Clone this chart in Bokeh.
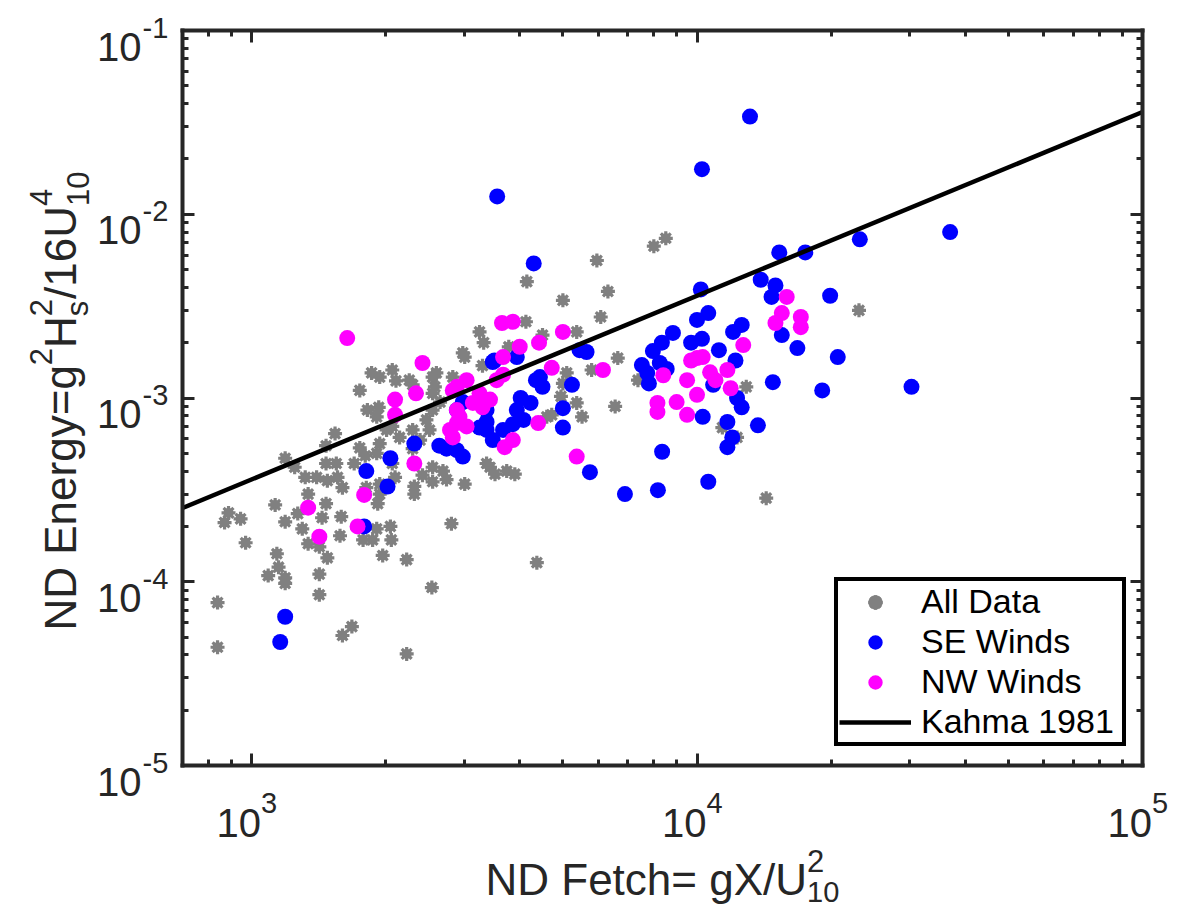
import math
from bokeh.plotting import figure
from bokeh.models import Range1d, FixedTicker, LogAxis, Label, Legend, LegendItem
from bokeh.embed import file_html
from bokeh.resources import INLINE

# ---------------- data ----------------
all_x = [839, 839, 888, 870, 945, 970, 1130, 1190, 1190, 1250,
         1140, 1150, 1090, 1190, 1190, 1420, 1420, 1600, 1680, 2230,
         2540, 2810, 2230, 1970, 1420, 1480, 1340, 1300, 1270, 1340,
         1470, 1440, 1590, 1580, 1780, 1870, 2050, 2060, 1910, 1920,
         1810, 1320, 1400, 1480, 1560, 1600, 1470, 1550, 1540, 1470,
         1750, 1800, 1700, 1910, 1750, 1860, 1940, 2070, 2110, 1820,
         1930, 1910, 2070, 2150, 2300, 2390, 2300, 2070, 2100, 1940,
         1940, 2320, 2320, 2420, 2550, 2690, 2550, 2740, 3010, 2300,
         2260, 2550, 2600, 2550, 2650, 2470, 2510, 2980, 3010, 3250,
         3320, 3300, 3430, 3520, 3740, 3900, 4370, 8510, 8000, 5960,
         4150, 6310, 5000, 6080, 4130, 5370, 6640, 5800, 4500, 3780,
         7370, 12900, 11400, 12300, 6550, 5520, 4720, 5370, 4950, 14300,
         23100, 5000, 5100, 2580, 2830, 3370, 2550, 1940, 2010, 4600]
all_y = [7.7e-5, 4.4e-5, 2.37e-4, 2.1e-4, 2.2e-4, 1.63e-4, 2.62e-4, 2.12e-4, 4.7e-4, 4.2e-4,
         1.42e-4, 1.2e-4, 1.08e-4, 1.05e-4, 0.98e-4, 1.1e-4, 8.5e-5, 5.1e-5, 5.7e-5, 4.05e-5,
         9.3e-5, 2.07e-4, 1.32e-4, 1.39e-4, 1.55e-4, 1.35e-4, 1.61e-4, 1.94e-4, 2.35e-4, 3.0e-4,
         2.66e-4, 2.23e-4, 2.26e-4, 1.78e-4, 1.69e-4, 1.69e-4, 2.0e-4, 1.69e-4, 1.94e-4, 2.66e-4,
         3.25e-4, 3.7e-4, 3.7e-4, 3.55e-4, 3.7e-4, 3.25e-4, 4.4e-4, 4.4e-4, 6.4e-4, 5.5e-4,
         5.35e-4, 4.85e-4, 4.4e-4, 5.0e-4, 1.1e-3, 1.37e-3, 1.3e-3, 1.42e-3, 1.24e-3, 8.6e-4,
         8.9e-4, 7.9e-4, 7.0e-4, 6.1e-4, 6.7e-4, 5.9e-4, 5.3e-4, 4.4e-4, 3.7e-4, 3.4e-4,
         3.0e-4, 3.3e-4, 3.0e-4, 3.8e-4, 4.2e-4, 4.0e-4, 3.5e-4, 3.6e-4, 3.4e-4, 1.18e-3,
         1.25e-3, 1.3e-3, 1.37e-3, 1.06e-3, 9.5e-4, 7.6e-4, 6.7e-4, 1.76e-3, 1.67e-3, 2.29e-3,
         2.0e-3, 1.5e-3, 4.2e-4, 3.85e-4, 4.0e-4, 3.85e-4, 1.27e-4, 7.4e-3, 6.7e-3, 5.6e-3,
         4.3e-3, 3.8e-3, 3.4e-3, 2.76e-3, 2.6e-3, 2.29e-3, 1.65e-3, 1.42e-3, 2.2e-3, 1.9e-3,
         1.25e-3, 1.15e-3, 6.9e-4, 6.1e-4, 9.0e-4, 7.9e-4, 8.1e-4, 9.4e-4, 1.02e-3, 2.85e-4,
         3.0e-3, 1.2e-3, 1.37e-3, 1.15e-3, 1.3e-3, 4.4e-4, 8.6e-4, 5.65e-4, 6.7e-4, 7.9e-4]

se_x = [3560, 13150, 10260, 4300, 37000, 23200, 17500, 15300, 13900, 15000,
        14700, 19900, 20700, 19100, 30300, 16800, 15500, 10200, 10000, 10600,
        7960, 8340, 8830, 12050, 12600, 10260, 9700, 11200, 12200, 7730,
        7800, 7520, 8250, 10870, 14800, 12300, 12600, 10300, 11700, 13700,
        12000, 11700, 8350, 10600, 8170, 6890, 5750, 5240, 5000, 5000,
        5450, 5650, 1190, 1160, 1790, 1810, 2020, 2050, 2320, 2640,
        2740, 2980, 2890, 3480, 3370, 3940, 3510, 4440, 4020, 4230,
        3940, 2980, 2890, 3370, 3250, 3370, 3670, 3860, 4080, 3480,
        4500, 4350, 8550]
se_y = [1.25e-2, 3.4e-2, 1.76e-2, 5.4e-3, 8.0e-3, 7.3e-3, 6.2e-3, 6.2e-3, 4.4e-3, 4.1e-3,
        3.55e-3, 3.6e-3, 1.67e-3, 1.1e-3, 1.15e-3, 1.87e-3, 2.2e-3, 3.9e-3, 2.66e-3, 2.9e-3,
        1.8e-3, 2.0e-3, 2.26e-3, 2.29e-3, 2.5e-3, 2.1e-3, 2.0e-3, 1.82e-3, 1.6e-3, 1.37e-3,
        1.2e-3, 1.51e-3, 1.55e-3, 1.18e-3, 1.22e-3, 1.0e-3, 8.9e-4, 7.9e-4, 7.4e-4, 7.1e-4,
        6.1e-4, 5.4e-4, 5.1e-4, 3.5e-4, 3.15e-4, 3.0e-4, 3.95e-4, 1.18e-3, 8.8e-4, 6.9e-4,
        1.82e-3, 1.78e-3, 6.45e-5, 4.7e-5, 2.0e-4, 4.0e-4, 3.3e-4, 4.7e-4, 5.65e-4, 5.5e-4,
        5.3e-4, 4.8e-4, 5.2e-4, 1.57e-3, 6.7e-4, 1.67e-3, 1.6e-3, 1.3e-3, 1.0e-3, 9.4e-4,
        8.6e-4, 9.5e-4, 8.6e-4, 8.6e-4, 6.9e-4, 7.4e-4, 6.7e-4, 7.2e-4, 7.6e-4, 5.9e-4,
        1.15e-3, 1.25e-3, 1.44e-3]

nw_x = [15900, 15500, 17100, 17100, 15000, 12700, 10000, 10300, 9700, 10700,
        11000, 11700, 9500, 10000, 11900, 8400, 8150, 8150, 9000, 9500,
        6150, 5000, 4400, 5370, 3650, 3860, 4000, 4420, 3670, 4720,
        3860, 3700, 1640, 2420, 2100, 2100, 2340, 2320, 1790, 1340,
        1420, 1730, 2890, 3040, 3250, 3140, 3300, 2930, 2890, 2790,
        2830, 2830, 3430, 3550, 3670, 2890, 3040]
nw_y = [3.55e-3, 2.9e-3, 2.76e-3, 2.43e-3, 2.56e-3, 1.94e-3, 1.65e-3, 1.67e-3, 1.6e-3, 1.38e-3,
        1.25e-3, 1.42e-3, 1.25e-3, 1.04e-3, 1.13e-3, 1.33e-3, 9.4e-4, 8.4e-4, 9.5e-4, 8.1e-4,
        1.42e-3, 2.29e-3, 7.3e-4, 4.8e-4, 2.56e-3, 2.6e-3, 1.9e-3, 2.0e-3, 1.67e-3, 1.46e-3,
        5.9e-4, 5.4e-4, 2.12e-3, 1.55e-3, 9.8e-4, 8.1e-4, 1.06e-3, 4.4e-4, 2.97e-4, 2.53e-4,
        1.76e-4, 2.0e-4, 1.15e-3, 1.25e-3, 1.06e-3, 9.4e-4, 8.9e-4, 7.9e-4, 8.6e-4, 6.7e-4,
        6.1e-4, 1.1e-3, 9.8e-4, 1.25e-3, 1.34e-3, 7.3e-4, 7.0e-4]

kahma_coef = 3.6e-7
kahma_x = [700, 1e5]
kahma_y = [kahma_coef * v for v in kahma_x]

x_major = [1e3, 1e4, 1e5]
x_exp = ["3", "4", "5"]
y_major = [1e-5, 1e-4, 1e-3, 1e-2, 1e-1]
y_exp = ["-5", "-4", "-3", "-2", "-1"]
X_LO, X_HI = 700, 1e5
Y_LO, Y_HI = 1e-5, 1e-1

# ---------------- layout ----------------
W, H = 1178, 909
FL, FT, FW, FH = 182, 30, 960, 735   # axes box inside the canvas
FONT = "Liberation Sans"
AX = "#262626"

# the Bokeh frame covers the whole canvas; the axes box is placed with fixed-location axes
lx0, lx1 = math.log10(X_LO), math.log10(X_HI)
ly0, ly1 = math.log10(Y_LO), math.log10(Y_HI)
dx = FW / (lx1 - lx0)
dy = FH / (ly1 - ly0)
xr = Range1d(10 ** (lx0 - FL / dx), 10 ** (lx1 + (W - FL - FW) / dx))
yr = Range1d(10 ** (ly0 - (H - FT - FH) / dy), 10 ** (ly1 + FT / dy))

p = figure(width=W, height=H, x_axis_type="log", y_axis_type="log",
           x_range=xr, y_range=yr,
           output_backend="svg", toolbar_location=None,
           min_border=0, min_border_left=0, min_border_right=0,
           min_border_top=0, min_border_bottom=0)
p.outline_line_color = None
p.grid.visible = False
p.background_fill_color = "white"
p.border_fill_color = "white"

x_minor = [k * 10 ** e for e in (2, 3, 4) for k in range(2, 10) if X_LO < k * 10 ** e < X_HI]
y_minor = [k * 10.0 ** e for e in (-5, -4, -3, -2) for k in range(2, 10)]


def style_axis(ax, ticks, minor, loc, bounds):
    ax.ticker = FixedTicker(ticks=ticks, minor_ticks=minor)
    ax.fixed_location = loc
    ax.bounds = bounds
    ax.axis_line_width = 4
    ax.axis_line_color = AX
    ax.axis_line_cap = "square"
    ax.major_tick_in = 12
    ax.major_tick_out = 0
    ax.minor_tick_in = 6
    ax.minor_tick_out = 0
    ax.major_tick_line_width = 3
    ax.minor_tick_line_width = 3
    ax.major_tick_line_color = AX
    ax.minor_tick_line_color = AX
    ax.major_label_text_color = None
    ax.major_label_text_font_size = "0px"
    ax.major_label_standoff = 0


style_axis(p.xaxis[0], x_major, x_minor, Y_LO, (X_LO, X_HI))
style_axis(p.yaxis[0], y_major, y_minor, X_LO, (Y_LO, Y_HI))
top_ax = LogAxis()
right_ax = LogAxis()
style_axis(top_ax, x_major, x_minor, Y_HI, (X_LO, X_HI))
style_axis(right_ax, y_major, y_minor, X_HI, (Y_LO, Y_HI))
p.add_layout(top_ax, "above")
p.add_layout(right_ax, "right")

# ---------------- glyphs ----------------
g1 = p.scatter(all_x, all_y, marker="circle", size=10, fill_color="#808080", line_color=None)
g2 = p.scatter(all_x, all_y, marker="asterisk", size=14, line_color="#808080", line_width=3.2)
b1 = p.scatter(se_x, se_y, marker="circle", size=16, fill_color="#0000FF", line_color=None)
m1 = p.scatter(nw_x, nw_y, marker="circle", size=16, fill_color="#FF00FF", line_color=None)
k1 = p.line(kahma_x, kahma_y, line_color="black", line_width=4.5)

legend = Legend(items=[LegendItem(label="All Data", renderers=[g1, g2]),
                       LegendItem(label="SE Winds", renderers=[b1]),
                       LegendItem(label="NW Winds", renderers=[m1]),
                       LegendItem(label="Kahma 1981", renderers=[k1])],
                location=(834, H - 746))
legend.border_line_color = "black"
legend.border_line_alpha = 1.0
legend.border_line_width = 4
legend.background_fill_color = "white"
legend.background_fill_alpha = 1.0
legend.label_text_font = FONT
legend.label_text_font_size = "34px"
legend.label_text_color = "black"
legend.padding = 1
legend.spacing = 1
legend.margin = 0
legend.glyph_width = 72
legend.glyph_height = 36
legend.label_height = 36
legend.label_width = 200
legend.label_standoff = 10
p.add_layout(legend)

# ---------------- text ----------------
CW = {'N': 722, 'D': 722, ' ': 278, 'E': 667, 'n': 556, 'e': 556, 'r': 333, 'g': 556,
      'y': 500, '=': 584, 'H': 722, 's': 500, '/': 278, '1': 556, '6': 556, 'U': 722,
      '0': 556, '2': 556, '4': 556, 'F': 611, 't': 278, 'c': 500, 'h': 556, 'X': 667,
      '-': 333, '3': 556, '5': 556}


def tw(s, size):
    return sum(CW.get(c, 556) for c in s) * size / 1000.0


def lab(text, x, y, xo, yo, size, align="left", angle=0.0, color=AX):
    p.add_layout(Label(x=x, y=y, x_offset=xo, y_offset=yo, text=text, angle=angle,
                       text_font=FONT, text_font_size=f"{size}px", text_color=color,
                       text_align=align, text_baseline="alphabetic"))


TS, TSUP = 40, 29
for t, e in zip(x_major, x_exp):
    lab("10", t, Y_LO, -35, -57, TS)
    lab(e, t, Y_LO, -35 + tw("10", TS), -57 + 20, TSUP)
for t, e in zip(y_major, y_exp):
    lab("10", X_LO, t, -41, -16, TS, align="right")
    lab(e, X_LO, t, -40, 3, TSUP)

LS, LSUP = 44, 31
# x label
x0, yb = 485 - FL, -(879 - (FT + FH))
main = "ND Fetch= gX/U"
lab(main, X_LO, Y_LO, x0, yb, LS)
lab("2", X_LO, Y_LO, x0 + tw(main, LS), yb + 19, LSUP)
lab("10", X_LO, Y_LO, x0 + tw(main, LS), yb - 12, 29)

# y label (rotated, reading upward)
bx = 60 - FL
start = (FT + FH) - 630
pieces = [("ND Energy=g", None, None), ("2", None, "sup"), ("H", None, None),
          ("2", "s", "stack"), ("/16U", None, None), ("4", "10", "stack")]
adv = 0.0
for a, bsub, kind in pieces:
    if kind is None:
        lab(a, X_LO, Y_LO, bx, start + adv, LS, angle=math.pi / 2)
        adv += tw(a, LS)
    elif kind == "sup":
        lab(a, X_LO, Y_LO, bx - 20, start + adv, LSUP, angle=math.pi / 2)
        adv += tw(a, LSUP)
    else:
        lab(a, X_LO, Y_LO, bx - 20, start + adv, LSUP, angle=math.pi / 2)
        lab(bsub, X_LO, Y_LO, bx + 17, start + adv, LSUP, angle=math.pi / 2)
        adv += max(tw(a, LSUP), tw(bsub, LSUP))

open("out.html", "w").write(file_html(p, INLINE))
